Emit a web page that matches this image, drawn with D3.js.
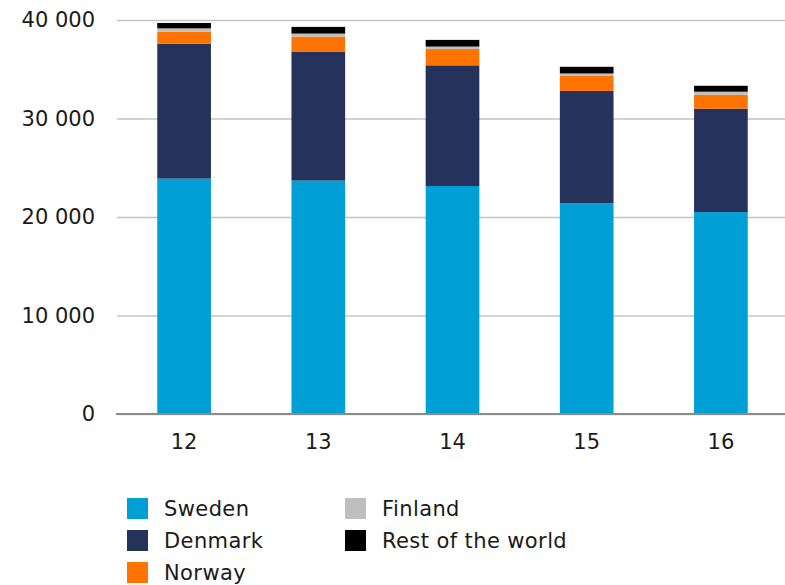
<!DOCTYPE html>
<html>
<head>
<meta charset="utf-8">
<script src="https://cdn.jsdelivr.net/npm/d3@7"></script>
<style>
  html, body { margin: 0; padding: 0; background: #fff; }
  svg { display: block; }
  text { font-family: "DejaVu Sans", Verdana, sans-serif; fill: #1a1a1a; }
</style>
</head>
<body>
<svg id="chart" width="785" height="585"></svg>
<script>
// Years shown on the x axis
const categories = ["12", "13", "14", "15", "16"];

// Values per market, stacked bottom to top
const sweden  = [23900, 23700, 23150, 21400, 20500];
const denmark = [13700, 13100, 12250, 11400, 10500];
const norway  = [1200, 1520, 1650, 1520, 1420];
const finland = [350, 300, 250, 250, 300];
const restOfWorld = [550, 680, 680, 680, 600];

const seriesNames = ["Sweden", "Denmark", "Norway", "Finland", "Rest of the world"];
const seriesValues = [sweden, denmark, norway, finland, restOfWorld];
const seriesColors = ["#009fd6", "#24325c", "#ff7300", "#bfbfbf", "#000000"];

const yTicks = [0, 10000, 20000, 30000, 40000];

const svg = d3.select("#chart");

const x = d3.scaleBand()
  .domain(categories)
  .range([117, 788])
  .paddingInner(0.6)
  .paddingOuter(0.3);

const y = d3.scaleLinear()
  .domain([0, 40000])
  .range([414, 20]);

// Build rows for the stack layout
const rows = categories.map((c, i) => {
  const r = { cat: c };
  seriesNames.forEach((s, k) => { r[s] = seriesValues[k][i]; });
  return r;
});
const stacked = d3.stack().keys(seriesNames)(rows);

const fmt = v => d3.format(",")(v).replace(/,/g, " ");

// Horizontal gridlines
const yAxis = d3.axisLeft(y)
  .tickValues(yTicks)
  .tickSize(-(785 - 117))
  .tickPadding(22)
  .tickFormat(fmt);

const gy = svg.append("g")
  .attr("transform", "translate(117,0)")
  .call(yAxis);
gy.select(".domain").remove();
gy.selectAll(".tick line")
  .attr("stroke", "#c4c4c4")
  .attr("stroke-width", 1.5);
gy.selectAll(".tick text")
  .attr("font-size", 21)
  .attr("font-family", "DejaVu Sans, Verdana, sans-serif")
  .attr("fill", "#1a1a1a");

// Stacked bars
svg.append("g")
  .selectAll("g")
  .data(stacked)
  .join("g")
  .attr("fill", (d, i) => seriesColors[i])
  .selectAll("rect")
  .data(d => d)
  .join("rect")
  .attr("x", d => x(d.data.cat))
  .attr("width", x.bandwidth())
  .attr("y", d => y(d[1]))
  .attr("height", d => y(d[0]) - y(d[1]));

// X axis
const xAxis = d3.axisBottom(x).tickSize(0).tickPadding(20);
const gx = svg.append("g")
  .attr("transform", "translate(0,414)")
  .call(xAxis);
gx.select(".domain").remove();
gx.append("line")
  .attr("x1", 116).attr("x2", 785)
  .attr("y1", 0).attr("y2", 0)
  .attr("stroke", "#8a8a8a")
  .attr("stroke-width", 2);
gx.selectAll(".tick text")
  .attr("font-size", 21)
  .attr("font-family", "DejaVu Sans, Verdana, sans-serif")
  .attr("fill", "#1a1a1a");

// Legend in two columns
const legendPos = [
  [127, 498], [127, 530], [127, 562],
  [345, 498], [345, 530]
];
const legend = svg.append("g");
seriesNames.forEach((name, i) => {
  const [lx, ly] = legendPos[i];
  legend.append("rect")
    .attr("x", lx).attr("y", ly)
    .attr("width", 21).attr("height", 21)
    .attr("fill", seriesColors[i]);
  legend.append("text")
    .attr("x", lx + 37)
    .attr("y", ly + 18)
    .attr("font-size", 21)
    .attr("letter-spacing", 0.4)
    .text(name);
});
</script>
</body>
</html>
